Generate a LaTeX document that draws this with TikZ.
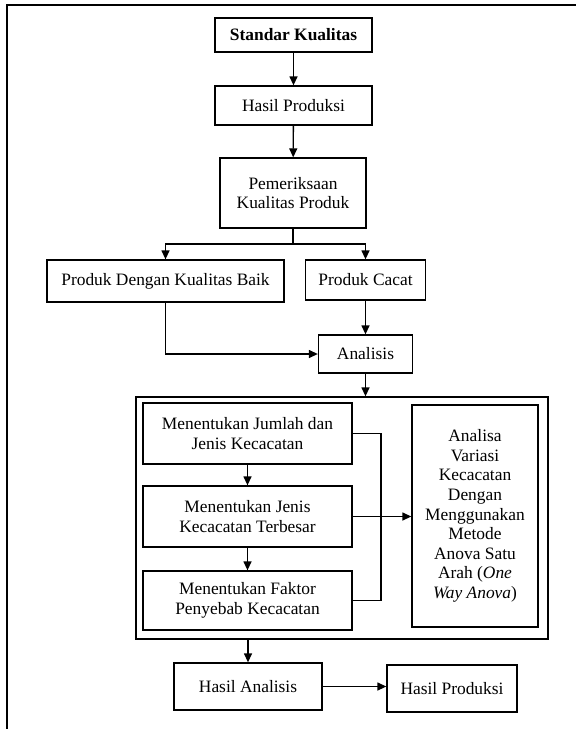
\documentclass[tikz,border=0pt]{standalone}
\usepackage{fontspec}
\setmainfont{Liberation Serif}
\usetikzlibrary{arrows.meta}
\begin{document}
\begin{tikzpicture}[x=1pt,y=-1pt,
  box/.style={draw, line width=1.3pt, inner sep=0pt, align=center, font=\fontsize{17.4}{19.6}\selectfont},
  conn/.style={line width=1.3pt},
  arr/.style={conn, -{Triangle[length=9pt,width=8pt]}}]
\useasboundingbox (0,0) rectangle (576,729);
% frame
\coordinate (f0) at (7,5);
\coordinate (f1) at (576,5);
\coordinate (f2) at (7,729);
\draw[line width=1.4pt] (f1) -- (f0) -- (f2);
% nodes
\node[box, minimum width=157pt, minimum height=34pt] (std) at (293.5,35) {\textbf{Standar Kualitas}};
\node[box, minimum width=157pt, minimum height=39pt] (hp1) at (293.5,105.5) {Hasil Produksi};
\node[box, minimum width=146pt, minimum height=70pt] (pem) at (293,193) {Pemeriksaan\\Kualitas Produk};
\node[box, minimum width=237pt, minimum height=42pt] (baik) at (165.5,281) {Produk Dengan Kualitas Baik};
\node[box, minimum width=120pt, minimum height=40pt] (cacat) at (365.5,280) {Produk Cacat};
\node[box, minimum width=94pt, minimum height=38pt] (anl) at (365.5,354) {Analisis};
\node[box, minimum width=412pt, minimum height=242pt] (big) at (342,518) {};
\node[box, minimum width=209pt, minimum height=61pt] (jml) at (247.5,433.5) {Menentukan Jumlah dan\\Jenis Kecacatan};
\node[box, minimum width=209pt, minimum height=61pt] (jns) at (247.5,516.5) {Menentukan Jenis\\Kecacatan Terbesar};
\node[box, minimum width=209pt, minimum height=59pt] (fak) at (247.5,600.5) {Menentukan Faktor\\Penyebab Kecacatan};
\node[box, minimum width=126pt, minimum height=222pt] (anova) at (475,516) {Analisa\\Variasi\\Kecacatan\\Dengan\\Menggunakan\\Metode\\Anova Satu\\Arah (\textit{One}\\\textit{Way Anova})};
\node[box, minimum width=148pt, minimum height=47pt] (ha) at (248,686.5) {Hasil Analisis};
\node[box, minimum width=130pt, minimum height=47pt] (hp2) at (452,688.5) {Hasil Produksi};
% connectors
\draw[arr] (std) -- (hp1);
\draw[arr] (hp1) -- (pem);
\coordinate (br) at (293,244);
\draw[conn] (pem.south) -- (br);
\draw[arr] (br) -| (baik.north);
\draw[arr] (br) -| (cacat.north);
\draw[arr] (cacat) -- (anl);
\draw[arr] (baik.south) |- (anl.west);
\draw[arr] (anl.south) -- (anl.south |- big.north);
\draw[arr] (jml) -- (jns);
\draw[arr] (jns) -- (fak);
\coordinate (bk) at (381,0);
\draw[conn] (jml.east) -| (bk |- fak.east) -- (fak.east);
\draw[arr] (jns.east) -- (jns.east -| anova.west);
\draw[arr] (ha.north |- big.south) -- (ha.north);
\draw[arr] (ha.east) -- (ha.east -| hp2.west);
\end{tikzpicture}
\end{document}
